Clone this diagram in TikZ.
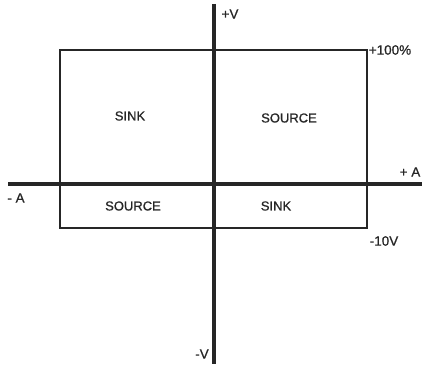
\documentclass[tikz,border=0pt]{standalone}
\usepackage{fontspec}
\setmainfont{Liberation Sans}
\newfontfamily\lbfont{Liberation Sans}[FakeBold=0.8]
\begin{document}
\begin{tikzpicture}[x=1pt,y=-1pt,
  axis/.style={line width=3.2pt,color=black!85},
  box/.style={line width=2pt,color=black!85},
  lbl/.style={font=\lbfont\fontsize{13}{15}\selectfont,text=black!85,inner sep=0pt},
  tick/.style={font=\lbfont\fontsize{13.5}{15}\selectfont,text=black!85,inner sep=0pt}]
\useasboundingbox (0,0) rectangle (422,369);
\coordinate (vt) at (214,4);
\coordinate (vb) at (214,364);
\coordinate (hl) at (8,184);
\coordinate (hr) at (422,184);
\coordinate (r1) at (60,50);
\coordinate (r2) at (367,228);
\draw[box] (r1) rectangle (r2);
\draw[axis] (vt) -- (vb);
\draw[axis] (hl) -- (hr);
\node[lbl] (s1) at (130,116) {SINK};
\node[lbl] (s2) at (289,118) {SOURCE};
\node[lbl] (s3) at (133,206) {SOURCE};
\node[lbl] (s4) at (276,206) {SINK};
\node[tick] (pv) at (230,14) {+V};
\node[tick] (p100) at (390,50) {+100\%};
\node[tick] (pa) at (410,172) {+ A};
\node[tick] (ma) at (16,198) {- A};
\node[tick] (m10) at (384,241) {-10V};
\node[tick] (mv) at (202,354) {-V};
\end{tikzpicture}
\end{document}
